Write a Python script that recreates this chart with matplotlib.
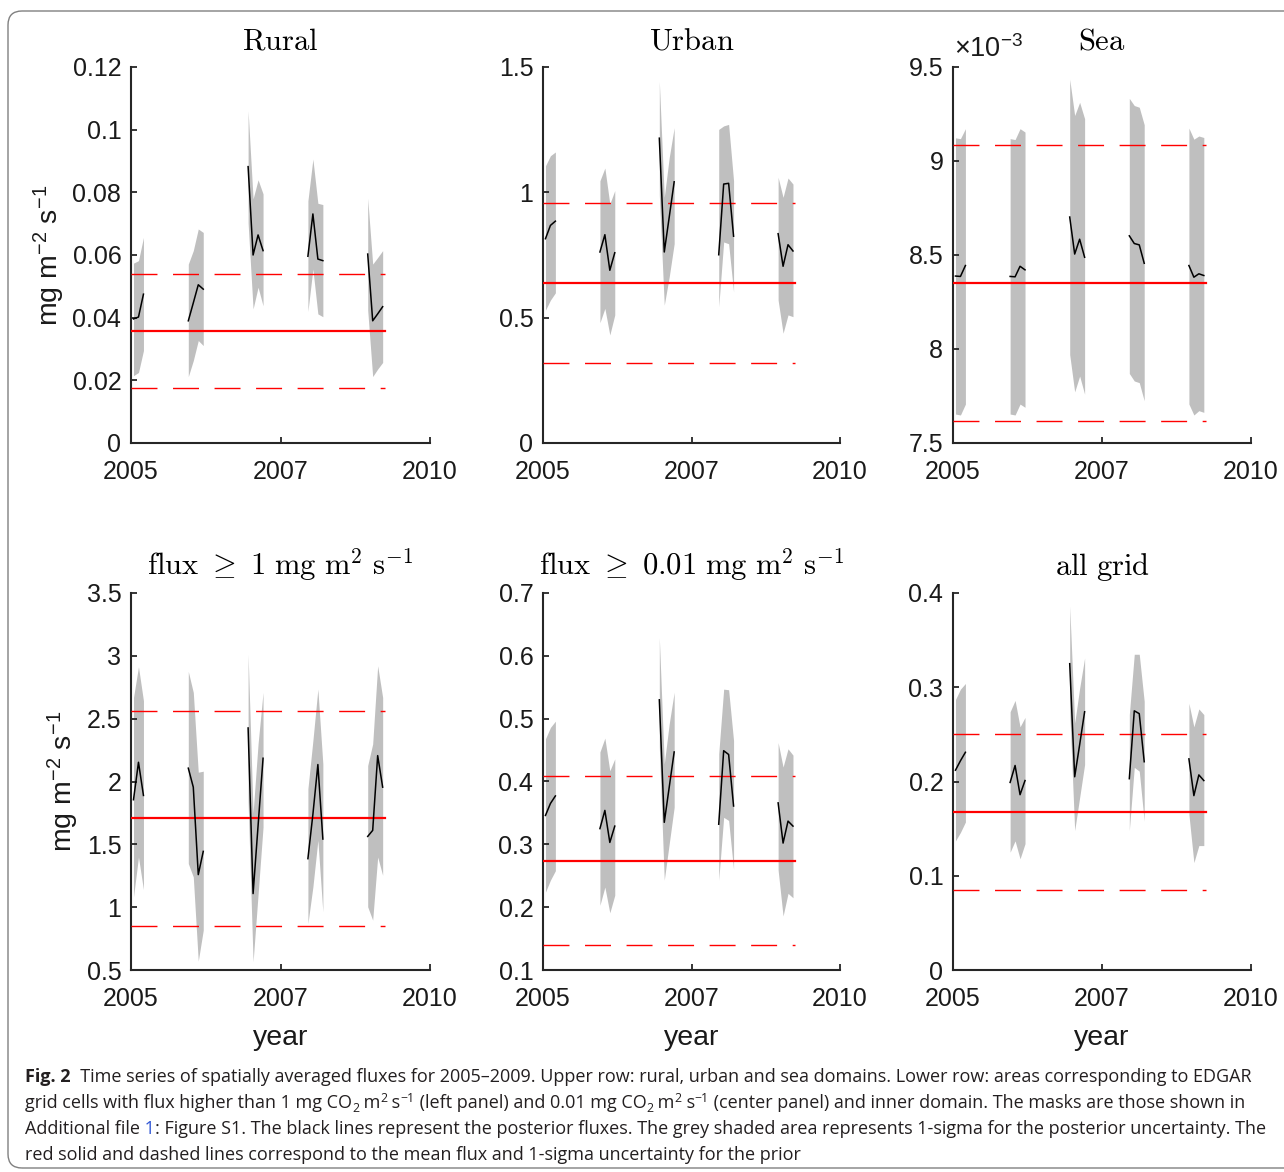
import numpy as np
import matplotlib
matplotlib.use('Agg')
import matplotlib.pyplot as plt
from matplotlib.patches import FancyBboxPatch
from matplotlib.transforms import IdentityTransform
from matplotlib.ticker import FixedLocator, FixedFormatter

W, H = 1284, 1172
plt.rcParams.update({
    'font.family': ['Liberation Sans', 'DejaVu Sans'],
    'mathtext.fontset': 'custom',
    'mathtext.rm': 'Liberation Sans',
    'mathtext.it': 'Liberation Sans:italic',
    'mathtext.bf': 'Liberation Sans:bold',
    'lines.scale_dashes': False,
})

# ---------------- data ----------------
# winter months covered by the posterior (year, month)
cluster_months = [
    [(2005, 1), (2005, 2), (2005, 3)],
    [(2005, 12), (2006, 1), (2006, 2), (2006, 3)],
    [(2006, 12), (2007, 1), (2007, 2), (2007, 3)],
    [(2007, 12), (2008, 1), (2008, 2), (2008, 3)],
    [(2008, 12), (2009, 1), (2009, 2), (2009, 3)],
]
prior_span = [2005.0, 2009.25]
x_ticks = [2005, 2007.5, 2010]
x_ticklabels = ['2005', '2007', '2010']

# Rural
rural_mean = [[0.0396, 0.0402, 0.0475], [0.0390, 0.0447, 0.0505, 0.0491],
              [0.0882, 0.0600, 0.0664, 0.0614], [0.0596, 0.0731, 0.0587, 0.0582],
              [0.0603, 0.0390, 0.0412, 0.0435]]
rural_upper = [[0.0574, 0.0582, 0.0656], [0.0571, 0.0614, 0.0683, 0.0672],
               [0.1060, 0.0779, 0.0840, 0.0795], [0.0773, 0.0906, 0.0765, 0.0761],
               [0.0781, 0.0571, 0.0592, 0.0614]]
rural_lower = [[0.0215, 0.0225, 0.0295], [0.0212, 0.0263, 0.0327, 0.0311],
               [0.0702, 0.0428, 0.0497, 0.0438], [0.0420, 0.0555, 0.0412, 0.0403],
               [0.0424, 0.0212, 0.0236, 0.0257]]
rural_prior, rural_prior_sigma = 0.0358, 0.0181

# Urban
urban_mean = [[0.815, 0.868, 0.885], [0.762, 0.831, 0.689, 0.759],
              [1.216, 0.762, 0.901, 1.042], [0.751, 1.033, 1.036, 0.825],
              [0.835, 0.705, 0.791, 0.766]]
urban_upper = [[1.106, 1.146, 1.161], [1.046, 1.097, 0.954, 1.007],
               [1.443, 0.980, 1.139, 1.258], [1.251, 1.265, 1.271, 1.046],
               [1.060, 0.980, 1.057, 1.033]]
urban_lower = [[0.530, 0.570, 0.599], [0.480, 0.537, 0.431, 0.511],
               [0.990, 0.550, 0.663, 0.795], [0.544, 0.802, 0.795, 0.603],
               [0.570, 0.438, 0.511, 0.504]]
urban_prior, urban_prior_sigma = 0.637, 0.319

# Sea (in units of 1e-3)
sea_mean = [[8.388, 8.386, 8.444], [8.386, 8.384, 8.440, 8.421],
            [8.702, 8.505, 8.584, 8.488], [8.602, 8.561, 8.554, 8.456],
            [8.444, 8.382, 8.400, 8.391]]
sea_upper = [[9.123, 9.119, 9.172], [9.119, 9.114, 9.172, 9.154],
             [9.435, 9.242, 9.312, 9.225], [9.333, 9.295, 9.286, 9.193],
             [9.175, 9.116, 9.133, 9.125]]
sea_lower = [[7.654, 7.649, 7.707], [7.654, 7.649, 7.707, 7.690],
             [7.970, 7.772, 7.856, 7.760], [7.870, 7.830, 7.821, 7.725],
             [7.707, 7.649, 7.672, 7.663]]
sea_prior, sea_prior_sigma = 8.351, 0.733

# flux >= 1
f1_mean = [[1.855, 2.153, 1.889], [2.106, 1.955, 1.259, 1.444],
           [2.426, 1.108, 1.648, 2.185], [1.386, 1.738, 2.135, 1.542],
           [1.563, 1.611, 2.206, 1.955]]
f1_upper = [[2.669, 2.913, 2.643], [2.876, 2.709, 2.074, 2.082],
            [3.013, 1.750, 2.300, 2.709], [1.942, 2.325, 2.735, 2.140],
            [2.127, 2.299, 2.921, 2.669]]
f1_lower = [[1.082, 1.399, 1.140], [1.347, 1.241, 0.571, 0.817],
            [1.840, 0.566, 1.100, 1.638], [0.870, 1.161, 1.532, 0.963],
            [1.003, 0.897, 1.399, 1.254]]
f1_prior, f1_prior_sigma = 1.709, 0.855

# flux >= 0.01
f001_mean = [[0.346, 0.365, 0.377], [0.325, 0.354, 0.303, 0.329],
             [0.530, 0.335, 0.391, 0.447], [0.332, 0.449, 0.443, 0.361],
             [0.366, 0.302, 0.337, 0.329]]
f001_upper = [[0.468, 0.486, 0.496], [0.447, 0.469, 0.417, 0.436],
              [0.629, 0.428, 0.492, 0.542], [0.444, 0.547, 0.546, 0.465],
              [0.462, 0.423, 0.452, 0.442]]
f001_lower = [[0.224, 0.243, 0.258], [0.203, 0.232, 0.191, 0.219],
              [0.455, 0.243, 0.301, 0.359], [0.243, 0.343, 0.338, 0.260],
              [0.259, 0.186, 0.222, 0.215]]
f001_prior, f001_prior_sigma = 0.274, 0.1345

# all grid
all_mean = [[0.212, 0.222, 0.231], [0.199, 0.217, 0.186, 0.201],
            [0.325, 0.205, 0.239, 0.274], [0.203, 0.275, 0.272, 0.221],
            [0.224, 0.185, 0.207, 0.201]]
all_upper = [[0.287, 0.298, 0.304], [0.274, 0.286, 0.258, 0.268],
             [0.386, 0.262, 0.299, 0.331], [0.271, 0.335, 0.335, 0.285],
             [0.283, 0.258, 0.277, 0.271]]
all_lower = [[0.137, 0.146, 0.157], [0.125, 0.137, 0.118, 0.134],
             [0.275, 0.148, 0.183, 0.218], [0.148, 0.215, 0.211, 0.158],
             [0.165, 0.114, 0.132, 0.132]]
all_prior, all_prior_sigma = 0.168, 0.0828

titles = [r'$\mathrm{Rural}$', r'$\mathrm{Urban}$', r'$\mathrm{Sea}$',
          r'$\mathrm{flux}\ \geq\ 1\ \mathrm{mg}\ \mathrm{m}^2\ \mathrm{s}^{-1}$',
          r'$\mathrm{flux}\ \geq\ 0.01\ \mathrm{mg}\ \mathrm{m}^2\ \mathrm{s}^{-1}$',
          r'$\mathrm{all\ grid}$']
ylims = [(0, 0.12), (0, 1.5), (7.5, 9.5), (0.5, 3.5), (0.1, 0.7), (0, 0.4)]
yticks = [[0, 0.02, 0.04, 0.06, 0.08, 0.1, 0.12], [0, 0.5, 1, 1.5],
          [7.5, 8, 8.5, 9, 9.5], [0.5, 1, 1.5, 2, 2.5, 3, 3.5],
          [0.1, 0.2, 0.3, 0.4, 0.5, 0.6, 0.7], [0, 0.1, 0.2, 0.3, 0.4]]

panels = [
    (rural_mean, rural_upper, rural_lower, rural_prior, rural_prior_sigma),
    (urban_mean, urban_upper, urban_lower, urban_prior, urban_prior_sigma),
    (sea_mean, sea_upper, sea_lower, sea_prior, sea_prior_sigma),
    (f1_mean, f1_upper, f1_lower, f1_prior, f1_prior_sigma),
    (f001_mean, f001_upper, f001_lower, f001_prior, f001_prior_sigma),
    (all_mean, all_upper, all_lower, all_prior, all_prior_sigma),
]

# ---------------- figure ----------------
fig = plt.figure(figsize=(W / 100, H / 100), dpi=100)
fig.patch.set_facecolor('white')

col_left = [131, 543, 953]
col_width = [299, 297, 298]
row_top = [67, 593]
row_bot = [443, 970]
AXC = '#262626'

for i, (pm, pu, pl, prior, psig) in enumerate(panels):
    r, c = divmod(i, 3)
    ax = fig.add_axes([col_left[c] / W, 1 - row_bot[r] / H,
                       col_width[c] / W, (row_bot[r] - row_top[r]) / H])
    for months, m, u, l in zip(cluster_months, pm, pu, pl):
        x = [yr + (mo - 0.5) / 12 for yr, mo in months]
        ax.fill_between(x, l, u, color='#bfbfbf', lw=0, zorder=1)
        ax.plot(x, m, color='k', lw=1.1, zorder=4)
    ax.plot(prior_span, [prior, prior], color='red', lw=1.6, zorder=3)
    for s in (+1, -1):
        ax.plot(prior_span, [prior + s * psig] * 2, color='red', lw=1.0,
                dashes=(18.7, 11.2), zorder=3)
    ax.set_xlim(2005, 2010)
    ax.set_ylim(*ylims[i])
    ax.xaxis.set_major_locator(FixedLocator(x_ticks))
    ax.xaxis.set_major_formatter(FixedFormatter(x_ticklabels))
    ax.yaxis.set_major_locator(FixedLocator(yticks[i]))
    ax.yaxis.set_major_formatter(FixedFormatter(['%g' % v for v in yticks[i]]))
    for side in ('top', 'right'):
        ax.spines[side].set_visible(False)
    for side in ('left', 'bottom'):
        ax.spines[side].set_color(AXC)
        ax.spines[side].set_linewidth(1.5)
    ax.tick_params(direction='in', length=4, width=1.3, colors=AXC,
                   labelsize=18, labelcolor='#1a1a1a')
    ax.tick_params(axis='y', pad=7)
    ax.tick_params(axis='x', pad=12)
    ax.set_title(titles[i], fontsize=22, math_fontfamily='cm',
                 pad=12.5 if r == 0 else 13)
    if c == 0:
        ax.set_ylabel(r'mg m$^{-2}$ s$^{-1}$', fontsize=20.5, labelpad=4,
                      color='#1a1a1a')
    if r == 1:
        ax.set_xlabel('year', fontsize=20.5, labelpad=10.5, color='#1a1a1a')
    if i == 2:
        ax.text(0.004, 1.0 + 10 / 376, r'$\times$10$^{-3}$', transform=ax.transAxes,
                fontsize=19.5, ha='left', va='baseline', color='#1a1a1a')

# ---------------- caption ----------------
renderer = fig.canvas.get_renderer()
CAP_FONT = 'Open Sans'
CAP_COL = '#231f20'
BLUE = '#2f55d4'


def adv(s, size, weight):
    t1 = fig.text(0, 0, 'x' + s + 'x', fontsize=size, family=CAP_FONT, weight=weight)
    t2 = fig.text(0, 0, 'xx', fontsize=size, family=CAP_FONT, weight=weight)
    w = t1.get_window_extent(renderer).width - t2.get_window_extent(renderer).width
    t1.remove()
    t2.remove()
    return w


def seg(text, kind='n', color=CAP_COL):
    return (text, kind, color)


SUB, SUP = 'sub', 'sup'
line1 = [seg('Fig. 2', 'b'),
         seg('  Time series of spatially averaged fluxes for 2005\u20132009. Upper row: '
             'rural, urban and sea domains. Lower row: areas corresponding to EDGAR')]
line2 = [seg('grid cells with flux higher than 1 mg CO'), seg('2', SUB), seg(' m'),
         seg('2', SUP), seg(' s'), seg('\u22121', SUP),
         seg(' (left panel) and 0.01 mg CO'), seg('2', SUB), seg(' m'), seg('2', SUP),
         seg(' s'), seg('\u22121', SUP),
         seg(' (center panel) and inner domain. The masks are those shown in')]
line3 = [seg('Additional file'), seg(' 1', 'n', BLUE),
         seg(': Figure S1. The black lines represent the posterior fluxes. The grey '
             'shaded area represents 1-sigma for the posterior uncertainty. The')]
line4 = [seg('red solid and dashed lines correspond to the mean flux and 1-sigma '
             'uncertainty for the prior')]


def seg_props(kind, size):
    if kind == 'b':
        return size, 'bold', 0
    if kind == SUB:
        return size * 0.68, 'normal', -4.5
    if kind == SUP:
        return size * 0.68, 'normal', 6.5
    return size, 'normal', 0


def line_width(segs, size):
    return sum(adv(t, seg_props(k, size)[0], seg_props(k, size)[1]) for t, k, _ in segs)


base = 14.0
cap_size = base * 1237.0 / line_width(line1, base)


def draw_line(x0, baseline, segs, size):
    x = x0
    for t, k, col in segs:
        fs, wt, dy = seg_props(k, size)
        fig.text(x / W, 1 - (baseline - dy) / H, t, fontsize=fs, family=CAP_FONT,
                 weight=wt, color=col, ha='left', va='baseline')
        x += adv(t, fs, wt)


for segs, bl in zip([line1, line2, line3, line4], [1082, 1108, 1134, 1160]):
    draw_line(25, bl, segs, cap_size)

# ---------------- border ----------------
border = FancyBboxPatch((8, H - 1168), 1320, 1168 - 11,
                        boxstyle='round,pad=0,rounding_size=14',
                        transform=IdentityTransform(), fill=False,
                        ec='#808080', lw=1.0)
fig.add_artist(border)

fig.savefig('out.png', dpi=100)
